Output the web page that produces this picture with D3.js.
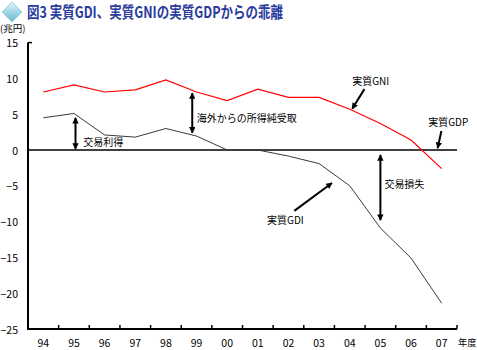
<!DOCTYPE html>
<html><head><meta charset="utf-8">
<script src="https://cdn.jsdelivr.net/npm/d3@7"></script>
<style>
html,body{margin:0;padding:0;background:#fff;}
svg{display:block;}
text{font-family:"Noto Sans CJK JP","Noto Sans",sans-serif;}
</style></head>
<body>
<script>
const years = ["94","95","96","97","98","99","00","01","02","03","04","05","06","07"];
const realGNI = [8.1, 9.1, 8.1, 8.4, 9.8, 8.1, 6.9, 8.5, 7.35, 7.35, 5.7, 3.7, 1.4, -2.6];
const realGDI = [4.5, 5.1, 2.1, 1.8, 3.0, 1.95, 0.0, 0.0, -0.85, -1.9, -5.0, -10.9, -15.1, -21.4];
const yTicks = [15, 10, 5, 0, -5, -10, -15, -20, -25];
const titleText = "図3 実質GDI、実質GNIの実質GDPからの乖離";
const unitText = "(兆円)";
const xUnitText = "年度";
// annotations in data units: x = category index (fractional), v = value
const doubleArrows = [
  {x: 1.05, v1: 4.5, v2: 0.15},
  {x: 4.86, v1: 7.95, v2: 2.4},
  {x: 11.0, v1: -0.7, v2: -9.8}
];
const pointerArrows = [
  {x1: 10.48, v1: 8.5, x2: 10.08, v2: 5.75},
  {x1: 12.99, v1: 2.65, x2: 12.87, v2: 0.25},
  {x1: 8.19, v1: -8.5, x2: 9.42, v2: -4.6}
];
const labels = [
  {text: "交易利得", x: 1.30, v: 1.1},
  {text: "海外からの所得純受取", x: 5.01, v: 4.45},
  {text: "実質GNI", x: 10.08, v: 9.55},
  {text: "実質GDP", x: 12.56, v: 3.87},
  {text: "交易損失", x: 11.13, v: -4.75},
  {text: "実質GDI", x: 7.3, v: -9.78}
];

const W = 477, H = 350;
const svg = d3.select("body").append("svg").attr("width", W).attr("height", H);

const x = d3.scaleBand().domain(years).range([28, 457]).paddingInner(0).paddingOuter(0);
const bw = x.bandwidth();
const xi = d3.scaleLinear().domain([0, years.length - 1])
  .range([x(years[0]) + bw / 2, x(years[years.length - 1]) + bw / 2]);
const y = d3.scaleLinear().domain([-25, 15]).range([329, 42.6]);

// defs
const defs = svg.append("defs");
defs.append("marker").attr("id", "ah").attr("viewBox", "0 0 10 10")
  .attr("refX", 9).attr("refY", 5).attr("markerWidth", 3.2).attr("markerHeight", 3.2)
  .attr("orient", "auto-start-reverse").attr("markerUnits", "strokeWidth")
  .append("path").attr("d", "M0,0 L10,5 L0,10 z").attr("fill", "#000");
const grad = defs.append("linearGradient").attr("id", "gem").attr("x1", 0).attr("y1", 0).attr("x2", 1).attr("y2", 1);
grad.append("stop").attr("offset", "0%").attr("stop-color", "#e6f7fb");
grad.append("stop").attr("offset", "50%").attr("stop-color", "#9fd6e4");
grad.append("stop").attr("offset", "100%").attr("stop-color", "#6fb8cc");

// title icon
svg.append("rect").attr("x", 5).attr("y", 5).attr("width", 14).attr("height", 14)
  .attr("transform", "rotate(45 12 12)").attr("fill", "url(#gem)").attr("stroke", "#8cc8d8").attr("stroke-width", 0.8);
// title
svg.append("text").attr("x", 27).attr("y", 18).attr("font-size", 16)
  .attr("textLength", 256).attr("lengthAdjust", "spacingAndGlyphs")
  .attr("fill", "#2a3c9c").attr("font-weight", "bold").text(titleText);

// unit
svg.append("text").attr("x", 0).attr("y", 32).attr("font-size", 9.5).attr("fill", "#000").text(unitText);

// y axis labels
svg.append("g").selectAll("text").data(yTicks).join("text")
  .attr("x", 18).attr("y", d => y(d) + 1).attr("dy", "0.35em")
  .attr("text-anchor", "end").attr("font-size", 10.5).attr("fill", "#000")
  .text(d => d < 0 ? "−" + Math.abs(d) : d);

// x axis
const xAxis = d3.axisBottom(x).tickSize(0).tickPadding(0);
const gx = svg.append("g").attr("transform", `translate(0,${y(-25)})`).call(xAxis);
gx.select(".domain").remove();
gx.selectAll("text").attr("y", 14).attr("dy", "0.35em").attr("font-size", 10.5)
  .attr("font-family", '"Noto Sans CJK JP",sans-serif').attr("fill", "#000");
// inner ticks at category boundaries
svg.append("g").selectAll("line").data(years.slice(1)).join("line")
  .attr("x1", d => x(d)).attr("x2", d => x(d))
  .attr("y1", y(-25)).attr("y2", y(-25) - 4).attr("stroke", "#000").attr("stroke-width", 1.5);
svg.append("line").attr("x1", x.range()[1]).attr("x2", x.range()[1])
  .attr("y1", y(-25)).attr("y2", y(-25) - 4).attr("stroke", "#000").attr("stroke-width", 1.5);
svg.append("text").attr("x", 458).attr("y", y(-25) + 14).attr("dy", "0.35em")
  .attr("font-size", 9.2).attr("fill", "#000").text(xUnitText);

// axis lines
svg.append("line").attr("x1", x.range()[0]).attr("x2", x.range()[1])
  .attr("y1", y(-25)).attr("y2", y(-25)).attr("stroke", "#000").attr("stroke-width", 2);
svg.append("line").attr("x1", x.range()[0]).attr("x2", x.range()[0])
  .attr("y1", y(15)).attr("y2", y(-25) + 1).attr("stroke", "#000").attr("stroke-width", 2);
svg.append("line").attr("x1", x.range()[0]).attr("x2", x.range()[0] + 4)
  .attr("y1", y(15)).attr("y2", y(15)).attr("stroke", "#000").attr("stroke-width", 1.5);
// zero line
svg.append("line").attr("x1", x.range()[0]).attr("x2", x.range()[1])
  .attr("y1", y(0)).attr("y2", y(0)).attr("stroke", "#000").attr("stroke-width", 1.6);

// lines
const line = d3.line().x((d, i) => x(years[i]) + bw / 2).y(d => y(d));
svg.append("path").datum(realGDI).attr("d", line).attr("fill", "none")
  .attr("stroke", "#3a3a3a").attr("stroke-width", 1);
svg.append("path").datum(realGNI).attr("d", line).attr("fill", "none")
  .attr("stroke", "#ff0000").attr("stroke-width", 1.2);

// double arrows
svg.append("g").selectAll("line").data(doubleArrows).join("line")
  .attr("x1", d => xi(d.x)).attr("x2", d => xi(d.x))
  .attr("y1", d => y(d.v1)).attr("y2", d => y(d.v2))
  .attr("stroke", "#000").attr("stroke-width", 2)
  .attr("marker-start", "url(#ah)").attr("marker-end", "url(#ah)");
// pointer arrows
svg.append("g").selectAll("line").data(pointerArrows).join("line")
  .attr("x1", d => xi(d.x1)).attr("x2", d => xi(d.x2))
  .attr("y1", d => y(d.v1)).attr("y2", d => y(d.v2))
  .attr("stroke", "#000").attr("stroke-width", 2)
  .attr("marker-end", "url(#ah)");

// labels
svg.append("g").selectAll("text").data(labels).join("text")
  .attr("x", d => xi(d.x)).attr("y", d => y(d.v)).attr("dy", "0.35em")
  .attr("font-size", 10).attr("fill", "#000").text(d => d.text);
</script>
</body></html>
